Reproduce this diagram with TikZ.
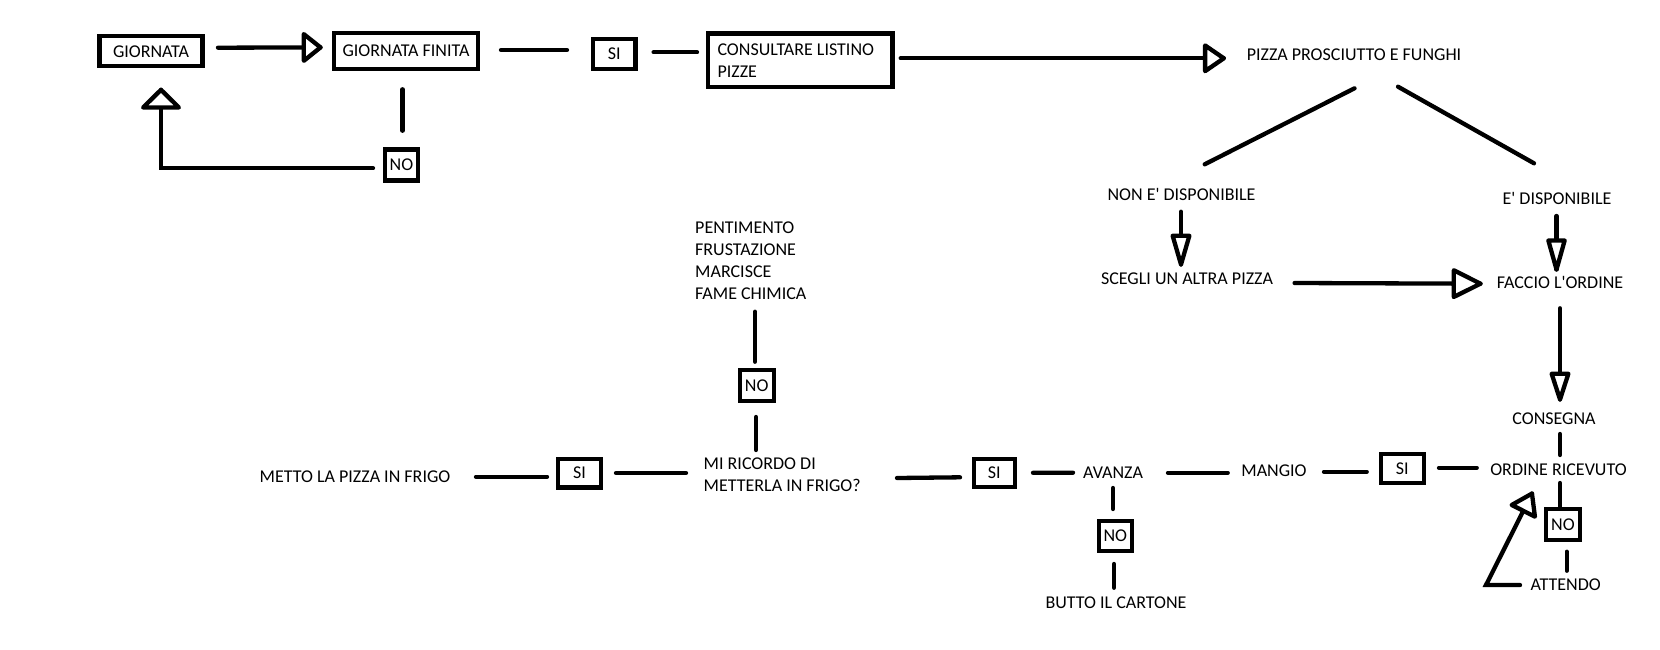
\documentclass[tikz,border=0pt]{standalone}
\usepackage{fontspec}
\setmainfont{Carlito}
\usetikzlibrary{calc,decorations.markings}
\begin{document}
\begin{tikzpicture}[x=1pt,y=-1pt,
  every node/.style={font=\fontsize{18}{22}\selectfont, inner sep=0pt},
  lbl/.style={text height=11.6pt, text depth=0pt},
  box/.style={draw, line width=4.3pt, text height=11.6pt, text depth=0pt},
  conn/.style={line width=4.3pt, line cap=round},
  ohead/.style 2 args={postaction={decorate, decoration={markings,
      mark=at position 1 with {\draw[line width=4.3pt, line join=round, fill=white]
        (0,0) -- (-#1,#2/2) -- (-#1,-#2/2) -- cycle;}}}}
]
\fill[white] (0,0) rectangle (1660,649);
\useasboundingbox (0,0) rectangle (1660,649);

% nodes
\node[box, minimum width=103pt, minimum height=30pt] (giornata) at (151,51.3) {GIORNATA};
\node[box, minimum width=144pt, minimum height=36pt] (gfinita) at (406,51) {GIORNATA FINITA};
\node[box, minimum width=33pt, minimum height=31pt] (no1) at (401.5,165) {NO};
\node[box, minimum width=42.5pt, minimum height=29.4pt] (si1) at (614.3,54) {SI};
\node[draw, line width=4.3pt, minimum height=53.7pt, text width=165.6pt, inner xsep=9.5pt, align=flush left] (listino) at (800.3,60.2) {CONSULTARE LISTINO\\PIZZE};
\node[lbl] (pizza) at (1354,54.3) {PIZZA PROSCIUTTO E FUNGHI};
\node[lbl] (nondisp) at (1181.5,194.3) {NON E\textquotesingle{} DISPONIBILE};
\node[lbl] (disp) at (1557,198.7) {E\textquotesingle{} DISPONIBILE};
\node[lbl] (scegli) at (1187,278.3) {SCEGLI UN ALTRA PIZZA};
\node[lbl] (faccio) at (1560,283) {FACCIO L\textquotesingle ORDINE};
\node[lbl] (consegna) at (1554,419) {CONSEGNA};
\node[lbl] (ordine) at (1558.5,470) {ORDINE RICEVUTO};
\node[box, minimum width=42.7pt, minimum height=29pt] (si4) at (1402.3,468.5) {SI};
\node[box, minimum width=34pt, minimum height=31pt] (no4) at (1563,524.5) {NO};
\node[lbl] (attendo) at (1565.7,585) {ATTENDO};
\node[lbl] (mangio) at (1274,470.7) {MANGIO};
\node[lbl] (avanza) at (1113,472.7) {AVANZA};
\node[box, minimum width=33.3pt, minimum height=30pt] (no3) at (1115.3,536) {NO};
\node[lbl] (butto) at (1116,603) {BUTTO IL CARTONE};
\node[box, minimum width=41.3pt, minimum height=28.3pt] (si3) at (994.3,472.8) {SI};
\node[align=flush left, anchor=west] (ricordo) at (703.5,474.3) {MI RICORDO DI\\METTERLA IN FRIGO?};
\node[box, minimum width=34pt, minimum height=30.4pt] (no2) at (756.7,385.5) {NO};
\node[align=flush left, anchor=west] (pent) at (695,260.3) {PENTIMENTO\\FRUSTAZIONE\\MARCISCE\\FAME CHIMICA};
\node[box, minimum width=42.7pt, minimum height=28.7pt] (si2) at (579.4,473) {SI};
\node[lbl] (metto) at (355,476.7) {METTO LA PIZZA IN FRIGO};

% connectors
\draw[conn, ohead={16.7}{26.7}] ($(giornata.center)+(67,-3.6)$) -- ($(gfinita.center)+(-85.5,-3.6)$);
\draw[conn] ($(gfinita.center)+(-3.5,38.3)$) -- ($(no1.center)+(1,-34.3)$);
\draw[conn, ohead={17.7}{35.7}] ($(no1.center)+(-28.5,3.3)$) -| ($(giornata.center)+(10,38.5)$);
\draw[conn] ($(gfinita.center)+(95,-1)$) -- ($(si1.center)+(-47.3,-4)$);
\draw[conn] ($(si1.center)+(39.3,-1.7)$) -- ($(listino.center)+(-103.3,-7.9)$);
\draw[conn, ohead={18.7}{25.7}] ($(listino.center)+(100.4,-1.9)$) -- ($(pizza.center)+(-130.2,4)$);
\draw[conn] ($(pizza.center)+(0.5,34)$) -- ($(nondisp.center)+(23.2,-30)$);
\draw[conn] ($(pizza.center)+(44,32.4)$) -- ($(disp.center)+(-23,-35.4)$);
\draw[conn, ohead={28.7}{16.7}] ($(nondisp.center)+(-0.5,17.4)$) -- ($(scegli.center)+(-6,-13.8)$);
\draw[conn, ohead={26.7}{26.7}] ($(scegli.center)+(107.6,4.7)$) -- ($(faccio.center)+(-79.5,0.7)$);
\draw[conn, ohead={29}{16.3}] ($(disp.center)+(-0.5,17.3)$) -- ($(faccio.center)+(-3.5,-13.5)$);
\draw[conn, ohead={25.7}{16.7}] ($(faccio.center)+(0,25.3)$) -- ($(consegna.center)+(6,-19.5)$);
\draw[conn] ($(consegna.center)+(6,15)$) -- ($(ordine.center)+(1.5,-15)$);
\draw[conn] ($(si4.center)+(36.7,-0.8)$) -- ($(ordine.center)+(-81.8,-2.3)$);
\draw[conn] ($(ordine.center)+(1.5,13)$) -- ($(no4.center)+(-3,-17.8)$);
\draw[conn] ($(no4.center)+(3.7,27.2)$) -- ($(attendo.center)+(1,-14.3)$);
\draw[conn, ohead={19.3}{26}] ($(attendo.center)+(-45.7,0)$) -- ($(attendo.center)+(-79.7,0)$) -- ($(ordine.center)+(-26.5,23.5)$);
\draw[conn] ($(mangio.center)+(50,1)$) -- ($(si4.center)+(-35.6,3.2)$);
\draw[conn] ($(avanza.center)+(55,0)$) -- ($(mangio.center)+(-46.3,2)$);
\draw[conn] ($(si3.center)+(38.7,0)$) -- ($(avanza.center)+(-40,0)$);
\draw[conn] ($(ricordo.west)+(193.5,3.7)$) -- ($(si3.center)+(-34.3,4.5)$);
\draw[conn] ($(avanza.center)+(0,15.3)$) -- ($(no3.center)+(-2.3,-27)$);
\draw[conn] ($(no3.center)+(-1.3,28)$) -- ($(butto.center)+(-2,-15.3)$);
\draw[conn] ($(ricordo.west)+(-17.5,-1.3)$) -- ($(si2.center)+(36.6,0)$);
\draw[conn] ($(si2.center)+(-32.4,3.7)$) -- ($(metto.center)+(121,0)$);
\draw[conn] ($(ricordo.west)+(52.5,-24.3)$) -- ($(no2.center)+(-0.7,31.5)$);
\draw[conn] ($(no2.center)+(-1.7,-23.8)$) -- ($(pent.west)+(60,51.4)$);
\end{tikzpicture}
\end{document}
